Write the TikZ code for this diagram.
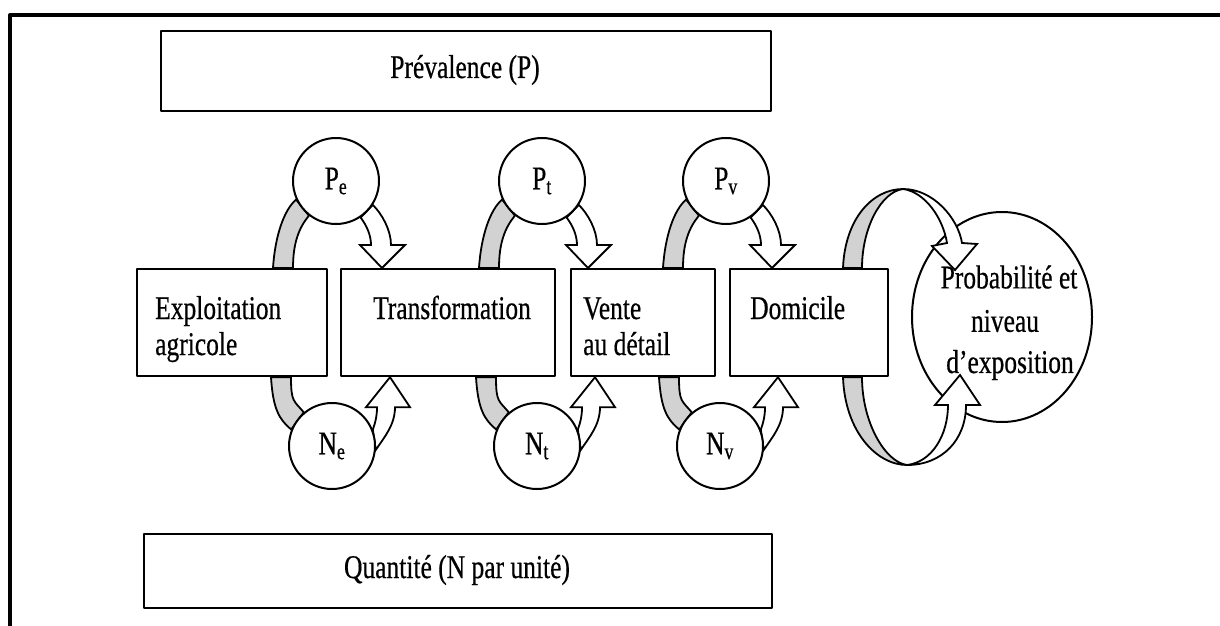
\documentclass[tikz,border=0pt]{standalone}
\usepackage{fontspec}
\setmainfont{Liberation Serif}[FakeBold=0.6]
\usetikzlibrary{calc,shapes.geometric}
\pgfdeclarelayer{background}
\pgfsetlayers{background,main}

% text set a little taller than wide
\newcommand\tx[1]{\scalebox{1}[1.3]{#1}}
% gray band from a box edge up to a P circle
\newcommand\pband[2]{%
  \draw[band] ([xshift=-63pt]#1.center |- #2.north) .. controls +(2,-32) and +(-12,10) .. (#1.205)
    -- (#1.232) .. controls +(-10,12) and +(0,-25) .. ([xshift=-43pt]#1.center |- #2.north) -- cycle;}
% gray band from a box edge down to an N circle
\newcommand\nband[2]{%
  \draw[band] ([xshift=-61pt]#1.center |- #2.south) .. controls +(2,32) and +(-12,-10) .. (#1.158)
    -- (#1.130) .. controls +(-10,-12) and +(0,25) .. ([xshift=-41pt]#1.center |- #2.south) -- cycle;}
% hollow arrow from a P circle down to the next box
\newcommand\parrow[2]{%
  \coordinate (t#1) at ([xshift=46pt]#1.center |- #2.north);
  \draw[hollow] (#1.-56) .. controls +(6,8) and +(0,-10) .. ($(t#1)+(-11,-23)$) -- ++(-11,0)
    -- (t#1) -- ($(t#1)+(23,-23)$) -- ++(-14,0) .. controls +(0,-15) and +(9,9) .. (#1.-33) -- cycle;}
% hollow arrow from an N circle up to the next box
\newcommand\narrow[2]{%
  \coordinate (t#1) at ([xshift=58pt]#1.center |- #2.south);
  \draw[hollow] (#1.22) .. controls +(3,-8) and +(0,8) .. ($(t#1)+(-13,30)$) -- ++(-11,0)
    -- (t#1) -- ($(t#1)+(20,30)$) -- ++(-15,0) .. controls +(0,18) and +(8,-12) .. (#1.-5) -- cycle;}

\begin{document}
\begin{tikzpicture}[x=1pt,y=-1pt,line join=round,
  every node/.style={font=\fontsize{25.5}{36}\selectfont},
  frame/.style={line width=4pt},
  box/.style={draw,line width=2.2pt,inner sep=0pt,anchor=north west},
  lbl/.style={inner sep=0pt},
  state/.style={draw,circle,line width=2pt,minimum size=86pt,inner sep=0pt,fill=white},
  band/.style={draw,line width=1.8pt,fill=gray!35},
  hollow/.style={draw,line width=1.8pt,fill=white}]
\useasboundingbox (0,0) rectangle (1220,626);
\draw[frame] (10,626) -- (10,15) -- (1220,15);

% stage boxes
\node[box,minimum width=610pt,minimum height=80pt] (prev) at (160,30) {};
\node[box,minimum width=628pt,minimum height=74pt] (quant) at (143,533) {};
\node[box,minimum width=190pt,minimum height=107pt] (ex) at (136,268) {};
\node[box,minimum width=214pt,minimum height=107pt] (tr) at (340,268) {};
\node[box,minimum width=144pt,minimum height=107pt] (ve) at (570,268) {};
\node[box,minimum width=158pt,minimum height=107pt] (do) at (729,268) {};

\node[lbl] (prevtxt) at (465,70) {\tx{Prévalence (P)}};
\node[lbl] (quanttxt) at (457,570) {\tx{Quantité (N par unité)}};
\node[lbl,anchor=base west] (ex1) at (155,319) {\tx{Exploitation}};
\node[lbl,anchor=base west] (ex2) at (155,355) {\tx{agricole}};
\node[lbl,anchor=base] (trtxt) at (452,319) {\tx{Transformation}};
\node[lbl,anchor=base west] (ve1) at (583,319) {\tx{Vente}};
\node[lbl,anchor=base west] (ve2) at (583,355) {\tx{au détail}};
\node[lbl,anchor=base west] (dotxt) at (750,319) {\tx{Domicile}};

% prevalence and quantity circles
\node[state] (Pe) at (336,181) {\tx{P\textsubscript{e}}};
\node[state] (Pt) at (542,181) {\tx{P\textsubscript{t}}};
\node[state] (Pv) at (726,181) {\tx{P\textsubscript{v}}};
\node[state] (Ne) at (332,446) {\tx{N\textsubscript{e}}};
\node[state] (Nt) at (537,446) {\tx{N\textsubscript{t}}};
\node[state] (Nv) at (720,446) {\tx{N\textsubscript{v}}};

\begin{pgfonlayer}{background}
  \node[draw,ellipse,line width=2pt,minimum width=180pt,minimum height=210pt,inner sep=0pt,fill=white] (el) at (1002,317) {};
  \pband{Pe}{ex} \parrow{Pe}{tr}
  \pband{Pt}{tr} \parrow{Pt}{ve}
  \pband{Pv}{ve} \parrow{Pv}{do}
  \nband{Ne}{ex} \narrow{Ne}{tr}
  \nband{Nt}{tr} \narrow{Nt}{ve}
  \nband{Nv}{ve} \narrow{Nv}{do}
  % twisted ribbons from the home box to the exposure ellipse
  \coordinate (ra) at ([xshift=114pt]do.north west);
  \coordinate (rb) at ([xshift=133pt]do.north west);
  \coordinate (rtop) at (903,189);
  \coordinate (rtip) at (955,270);
  \draw[band] (ra) .. controls +(2,-50) and +(-30,0) .. (rtop) .. controls +(-22,3) and +(0,-40) .. (rb) -- cycle;
  \draw[hollow] (rtop) .. controls +(30,0) and +(-4,-25) .. ($(rtip)+(7,-27)$) -- ($(rtip)+(22,-26)$)
    -- (rtip) -- ($(rtip)+(-23,-24)$) -- ($(rtip)+(-8,-27)$) .. controls +(-4,-25) and +(22,3) .. (rtop) -- cycle;
  \coordinate (rc) at ([xshift=114pt]do.south west);
  \coordinate (rd) at ([xshift=133pt]do.south west);
  \coordinate (rbot) at (907,465);
  \coordinate (rtip2) at (960,375);
  \draw[band] (rc) .. controls +(2,55) and +(-30,0) .. (rbot) .. controls +(-22,-3) and +(0,45) .. (rd) -- cycle;
  \draw[hollow] (rbot) .. controls +(35,0) and +(0,35) .. ($(rtip2)+(6,30)$) -- ($(rtip2)+(20,30)$)
    -- (rtip2) -- ($(rtip2)+(-25,30)$) -- ($(rtip2)+(-12,30)$) .. controls +(0,30) and +(25,-3) .. (rbot) -- cycle;
\end{pgfonlayer}

\node[lbl] (el1) at (1009,277) {\tx{Probabilité et}};
\node[lbl] (el2) at (1005,321) {\tx{niveau}};
\node[lbl] (el3) at (1010,365) {\tx{d’exposition}};
\end{tikzpicture}
\end{document}
